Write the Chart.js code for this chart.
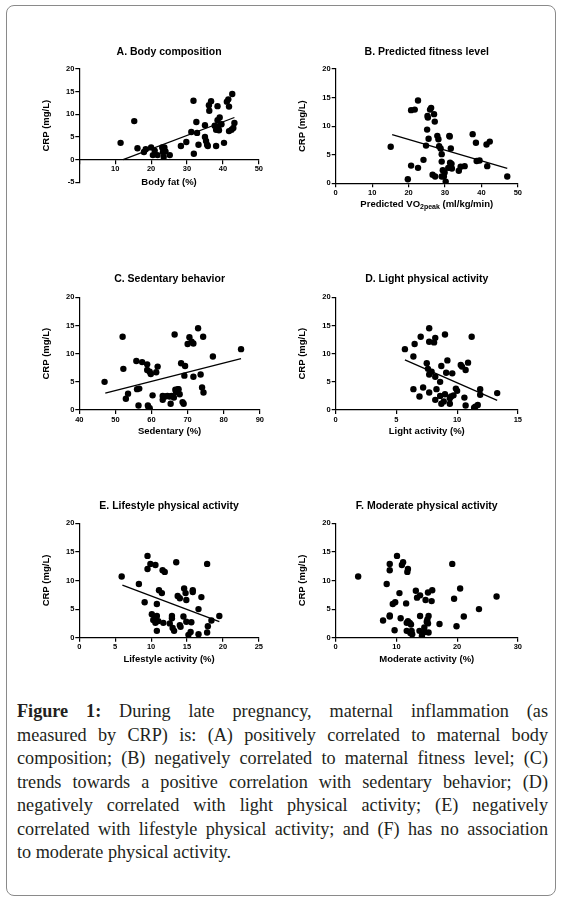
<!DOCTYPE html>
<html>
<head>
<meta charset="utf-8">
<script src="https://cdn.jsdelivr.net/npm/chart.js@4.4.0/dist/chart.umd.min.js"></script>
<style>
  html, body { margin: 0; padding: 0; background: #fff; }
  body { width: 563px; height: 903px; position: relative; overflow: hidden; }
  #frame {
    position: absolute; left: 6px; top: 5px; width: 550px; height: 891px;
    border: 1px solid #8a8a8a; border-radius: 8px; box-sizing: border-box;
  }
  canvas { position: absolute; }
  #caption {
    position: absolute; left: 17px; top: 700px; width: 531px;
    font-family: "Liberation Serif", "Times New Roman", serif;
    font-size: 18.2px; line-height: 23.5px; color: #231f20;
  }
  #caption div { white-space: nowrap; text-align: justify; text-align-last: justify; }
  #caption div.last { text-align: left; text-align-last: left; }
</style>
</head>
<body>
<div id="frame"></div>
<canvas id="chartA"></canvas>
<canvas id="chartB"></canvas>
<canvas id="chartC"></canvas>
<canvas id="chartD"></canvas>
<canvas id="chartE"></canvas>
<canvas id="chartF"></canvas>
<div id="caption">
  <div><b>Figure 1:</b> During late pregnancy, maternal inflammation (as</div>
  <div>measured by CRP) is: (A) positively correlated to maternal body</div>
  <div>composition; (B) negatively correlated to maternal fitness level; (C)</div>
  <div>trends towards a positive correlation with sedentary behavior; (D)</div>
  <div>negatively correlated with light physical activity; (E) negatively</div>
  <div>correlated with lifestyle physical activity; and (F) has no association</div>
  <div class="last">to moderate physical activity.</div>
</div>
<script>
// A. Body composition
const bodyFat = [11.5, 15.3, 16.2, 18.0, 18.5, 20.0, 20.5, 21.0, 21.8, 23.1,
                 23.3, 23.5, 23.7, 24.0, 25.2, 28.3, 29.8, 31.2, 31.8, 31.9,
                 32.6, 32.8, 33.2, 35.0, 35.0, 35.3, 35.6, 35.8, 36.1, 36.2,
                 36.7, 37.7, 38.1, 38.1, 38.5, 38.5, 38.7, 38.9, 39.1, 39.6,
                 40.3, 41.1, 41.5, 41.7, 41.7, 42.4, 42.6, 42.9, 43.2];
const crpFat  = [3.7, 8.5, 2.5, 1.7, 2.3, 2.7, 1.0, 2.0, 1.0, 2.7,
                 1.7, 0.6, 2.7, 1.8, 1.0, 3.0, 3.9, 6.1, 13.0, 1.3,
                 8.3, 5.9, 3.3, 5.0, 7.6, 4.1, 3.3, 3.0, 12.0, 10.8,
                 12.9, 7.5, 6.6, 3.0, 11.8, 8.7, 7.2, 6.5, 9.3, 7.8,
                 3.7, 12.8, 13.3, 11.7, 6.3, 6.6, 14.5, 7.0, 8.1];
const fitFatX = [12.2, 43.2];
const fitFatY = [0, 9.3];

// B. Predicted fitness level
const vo2 = [15.1, 19.8, 20.7, 20.7, 21.7, 22.6, 22.6, 24.1, 24.8, 25.1,
             25.2, 25.3, 25.5, 25.9, 26.2, 26.6, 27.0, 27.2, 27.3, 27.9,
             28.2, 28.4, 28.8, 29.1, 29.1, 29.1, 29.4, 29.7, 29.9, 30.2,
             30.9, 31.2, 31.3, 31.4, 31.6, 31.8, 31.9, 33.8, 34.3, 35.4,
             37.6, 38.5, 38.7, 39.5, 41.6, 41.4, 42.3, 47.1];
const crpVo2 = [6.4, 0.7, 3.1, 12.8, 12.9, 14.5, 2.7, 4.1, 6.6, 9.4,
                11.8, 11.5, 7.8, 12.9, 13.2, 1.5, 12.1, 10.8, 1.2, 8.3,
                7.7, 6.5, 6.1, 5.1, 3.8, 1.2, 2.3, 1.2, 1.9, 0.3,
                2.7, 8.3, 8.2, 3.6, 6.1, 3.4, 2.6, 2.2, 2.9, 3.0,
                8.6, 7.1, 3.9, 4.0, 3.0, 6.8, 7.3, 1.2];
const fitVo2X = [15.5, 47.1];
const fitVo2Y = [8.5, 2.6];

// C. Sedentary behavior
const sedentary = [47.0, 52.0, 52.2, 52.9, 53.5, 55.8, 56.0, 56.4, 56.6, 57.4,
                   58.8, 58.8, 59.0, 59.2, 59.5, 59.5, 59.8, 60.3, 61.3, 61.7,
                   63.1, 63.1, 63.8, 64.4, 65.0, 65.3, 65.6, 66.2, 66.4, 66.6,
                   66.8, 67.3, 67.5, 67.8, 68.2, 68.6, 68.9, 69.1, 69.3, 70.0,
                   70.5, 71.1, 71.6, 71.6, 72.9, 73.6, 74.0, 74.3, 74.4, 77.0, 84.8];
const crpSed = [5.0, 13.0, 7.3, 2.0, 2.9, 8.7, 3.7, 0.8, 3.8, 8.5,
                8.1, 7.1, 0.8, 0.4, 0.3, 6.8, 6.4, 2.6, 6.7, 7.7,
                2.5, 1.8, 2.4, 2.5, 2.4, 1.1, 2.5, 2.2, 13.4, 3.6,
                3.2, 3.7, 3.7, 2.8, 8.3, 1.4, 1.1, 6.1, 7.8, 11.7,
                12.9, 12.1, 11.8, 5.9, 14.5, 6.3, 4.0, 13.0, 3.1, 9.5, 10.8];
const fitSedX = [47.2, 84.8];
const fitSedY = [3.0, 9.1];

// D. Light physical activity
const light = [5.7, 6.4, 6.5, 6.4, 6.9, 7.0, 7.2, 7.5, 7.6, 7.7,
               7.7, 7.7, 7.7, 7.9, 8.1, 8.2, 8.2, 8.2, 8.3, 8.6,
               8.6, 8.7, 8.7, 8.9, 9.0, 9.0, 9.1, 9.2, 9.4, 9.4,
               9.5, 9.6, 9.7, 9.9, 10.0, 10.3, 10.4, 10.6, 10.7, 10.7,
               10.9, 11.2, 11.4, 11.5, 11.7, 11.9, 11.9, 13.3];
const crpLight = [10.8, 9.5, 11.7, 3.7, 2.4, 13.0, 4.0, 8.3, 7.3, 14.5,
                  12.1, 6.3, 3.1, 6.8, 12.0, 12.8, 5.9, 1.8, 3.7, 5.0,
                  2.5, 7.8, 1.1, 1.5, 2.8, 13.4, 6.6, 8.8, 1.1, 2.1,
                  2.4, 6.5, 2.6, 3.8, 3.4, 8.0, 7.7, 2.2, 7.1, 0.8,
                  8.4, 13.0, 0.4, 0.6, 0.9, 3.7, 2.7, 3.0];
const fitLightX = [5.7, 13.3];
const fitLightY = [8.9, 1.7];

// E. Lifestyle physical activity
const lifestyle = [9.5, 9.9, 9.5, 10.6, 11.6, 11.9, 13.5, 17.8, 5.9, 8.3,
                   9.1, 10.8, 11.1, 11.5, 10.1, 10.8, 10.3, 10.6, 11.0, 10.8,
                   11.7, 12.6, 12.9, 12.9, 13.0, 13.2, 13.7, 14.0, 14.0, 14.1,
                   14.5, 14.6, 14.8, 14.9, 14.9, 15.2, 15.5, 15.6, 15.8, 15.8,
                   16.6, 16.6, 17.0, 17.8, 17.9, 18.4, 19.5];
const crpLife = [14.3, 12.9, 12.0, 12.7, 11.8, 11.5, 13.2, 12.9, 10.7, 9.4,
                 6.2, 5.9, 8.3, 7.8, 4.1, 3.8, 3.1, 2.6, 2.9, 1.2,
                 2.6, 2.5, 3.8, 3.4, 1.7, 1.2, 7.3, 6.9, 2.2, 1.9,
                 3.7, 8.6, 7.8, 6.6, 2.8, 0.5, 1.0, 2.7, 8.3, 8.0,
                 5.0, 0.6, 7.1, 0.9, 2.0, 3.0, 3.8];
const fitLifeX = [6.0, 19.5];
const fitLifeY = [9.2, 2.8];

// F. Moderate physical activity
const moderate = [10.1, 8.9, 8.9, 11.1, 10.9, 11.9, 11.8, 19.2, 3.7, 8.4,
                  10.5, 9.4, 9.8, 11.6, 13.2, 13.4, 13.9, 14.8, 15.2, 15.9,
                  15.8, 19.5, 20.5, 23.6, 26.5, 7.8, 8.9, 8.9, 9.7, 10.7,
                  11.7, 11.9, 12.2, 12.4, 11.7, 12.5, 12.3, 12.6, 13.9, 13.8,
                  14.2, 14.6, 14.7, 15.0, 15.2, 15.3, 15.1, 15.3, 17.1, 19.9, 21.1];
const crpMod = [14.3, 12.9, 11.8, 13.2, 12.7, 12.0, 11.5, 12.9, 10.7, 9.4,
                7.8, 5.9, 6.2, 6.0, 8.2, 7.0, 7.4, 6.6, 7.9, 8.3,
                6.4, 6.8, 8.6, 5.0, 7.2, 3.0, 3.9, 3.7, 1.3, 3.4,
                2.6, 2.9, 2.6, 2.3, 1.2, 1.2, 0.8, 0.6, 3.8, 1.2,
                0.3, 1.8, 1.0, 2.8, 2.5, 3.8, 3.2, 0.9, 2.4, 2.0, 3.7];

// tick labels
const crpTicksA = [-5, 0, 5, 10, 15, 20];
const crpTicks = [0, 5, 10, 15, 20];
const fatTicks = [0, 10, 20, 30, 40, 50];
const vo2Ticks = [0, 10, 20, 30, 40, 50];
const sedTicks = [40, 50, 60, 70, 80, 90];
const lightTicks = [0, 5, 10, 15];
const lifeTicks = [0, 5, 10, 15, 20, 25];
const modTicks = [0, 10, 20, 30];

const FONT = '"Liberation Sans", Arial, sans-serif';
Chart.defaults.color = '#000';
Chart.defaults.font.family = FONT;

// plot areas on the page (left, right, top, bottom), title centre y
const layoutA = { l: 79.3, r: 249, t: 69, b: 182.3, ty: 51.7 };
const layoutB = { l: 335.7, r: 507.3, t: 69, b: 183.3, ty: 52 };
const layoutC = { l: 79.3, r: 250, t: 297.3, b: 410, ty: 279.5 };
const layoutD = { l: 335.7, r: 507.3, t: 297.3, b: 410, ty: 279.5 };
const layoutE = { l: 79.3, r: 249, t: 523.3, b: 637.7, ty: 506.5 };
const layoutF = { l: 335.7, r: 507.3, t: 523.3, b: 637.7, ty: 506.5 };

const Y_W = 45, X_H = 40, TITLE_H = 30, RIGHT = 15;

// draws the x title with a subscript (Predicted VO2peak)
const subTitlePlugin = {
    id: 'subTitle',
    afterDraw(chart, args, opts) {
        if (!opts.parts) return;
        const ctx = chart.ctx;
        const a = chart.chartArea;
        const big = 'bold 9.5px ' + FONT;
        const small = 'bold 7px ' + FONT;
        ctx.save();
        const widths = opts.parts.map(p => {
            ctx.font = p.sub ? small : big;
            return ctx.measureText(p.text).width;
        });
        const total = widths.reduce((s, w) => s + w, 0);
        let x = (a.left + a.right) / 2 - total / 2;
        const y = a.bottom + opts.offset;
        ctx.fillStyle = '#000';
        ctx.textBaseline = 'middle';
        ctx.textAlign = 'left';
        opts.parts.forEach((p, i) => {
            ctx.font = p.sub ? small : big;
            ctx.fillText(p.text, x, y + (p.sub ? 2.8 : 0));
            x += widths[i];
        });
        ctx.restore();
    }
};

function axisStyle() {
    return {
        border: { display: true, color: '#000', width: 1.2 },
        grid: { display: true, drawOnChartArea: false, drawTicks: true, tickLength: 4, color: '#000', lineWidth: 1.2 }
    };
}

function makePanel(id, g, title, xs, ys, fitX, fitY, xTicks, yTicks, xTitle, extra) {
    extra = extra || {};
    const canvas = document.getElementById(id);
    const left = Math.floor(g.l - Y_W);
    const top = Math.floor(g.t - TITLE_H);
    const right = Math.ceil(g.r + RIGHT);
    const bottom = Math.ceil(g.b + X_H);
    canvas.width = right - left;
    canvas.height = bottom - top;
    canvas.style.left = left + 'px';
    canvas.style.top = top + 'px';

    const titleLH = 10.5 * 1.2;
    const gap = g.t - g.ty - titleLH / 2;

    const datasets = [{
        type: 'scatter',
        data: xs.map((x, i) => ({ x: x, y: ys[i] })),
        backgroundColor: '#000',
        borderWidth: 0,
        pointRadius: 3.2,
        pointHoverRadius: 3.2
    }];
    if (fitX) {
        datasets.push({
            type: 'line',
            data: fitX.map((x, i) => ({ x: x, y: fitY[i] })),
            borderColor: '#000',
            borderWidth: 1.3,
            pointRadius: 0,
            fill: false
        });
    }

    const xScale = Object.assign(axisStyle(), {
        type: 'linear',
        position: extra.xAtZero ? { y: 0 } : 'bottom',
        min: xTicks[0],
        max: xTicks[xTicks.length - 1],
        afterBuildTicks: s => { s.ticks = xTicks.map(v => ({ value: v })); },
        afterFit: s => { s.height = X_H; },
        ticks: {
            padding: 1,
            maxRotation: 0,
            font: { size: 7.5, weight: 'bold' },
            callback: v => (extra.hideXZero && v === 0) ? '' : v
        },
        title: {
            display: !!xTitle,
            text: xTitle || '',
            font: { size: 9.5, weight: 'bold' },
            padding: { top: 0, bottom: extra.xAtZero ? 11.9 : 12.6 }
        }
    });
    const yScale = Object.assign(axisStyle(), {
        type: 'linear',
        position: 'left',
        min: yTicks[0],
        max: yTicks[yTicks.length - 1],
        afterBuildTicks: s => { s.ticks = yTicks.map(v => ({ value: v })); },
        afterFit: s => { s.width = Y_W; },
        ticks: { padding: 1, font: { size: 7.5, weight: 'bold' } },
        title: {
            display: true,
            text: 'CRP (mg/L)',
            font: { size: 9.5, weight: 'bold' },
            padding: { top: Y_W - 33.3 - 5.7, bottom: 0 }
        }
    });

    // an axis placed at y = 0 takes no room at the bottom, so reserve it here
    const extraBottom = extra.xAtZero ? X_H : 0;

    return new Chart(canvas.getContext('2d'), {
        type: 'scatter',
        data: { datasets: datasets },
        options: {
            responsive: false,
            animation: false,
            devicePixelRatio: window.devicePixelRatio || 1,
            layout: {
                padding: {
                    left: g.l - Y_W - left,
                    top: g.t - TITLE_H - top,
                    right: right - (g.r + RIGHT),
                    bottom: bottom - (g.b + X_H) + extraBottom
                }
            },
            scales: { x: xScale, y: yScale },
            plugins: {
                legend: { display: false },
                tooltip: { enabled: false },
                title: {
                    display: true,
                    text: title,
                    fullSize: false,
                    font: { size: 10.5, weight: 'bold' },
                    padding: { top: TITLE_H - titleLH - gap, bottom: gap }
                },
                subTitle: extra.subTitle || {}
            }
        },
        plugins: [subTitlePlugin]
    });
}

makePanel('chartA', layoutA, 'A. Body composition', bodyFat, crpFat, fitFatX, fitFatY,
    fatTicks, crpTicksA, 'Body fat (%)', { xAtZero: true, hideXZero: true });

makePanel('chartB', layoutB, 'B. Predicted fitness level', vo2, crpVo2, fitVo2X, fitVo2Y,
    vo2Ticks, crpTicks, null, {
        subTitle: {
            offset: 20.7,
            parts: [
                { text: 'Predicted VO' },
                { text: '2peak', sub: true },
                { text: ' (ml/kg/min)' }
            ]
        }
    });

makePanel('chartC', layoutC, 'C. Sedentary behavior', sedentary, crpSed, fitSedX, fitSedY,
    sedTicks, crpTicks, 'Sedentary (%)');

makePanel('chartD', layoutD, 'D. Light physical activity', light, crpLight, fitLightX, fitLightY,
    lightTicks, crpTicks, 'Light activity (%)');

makePanel('chartE', layoutE, 'E. Lifestyle physical activity', lifestyle, crpLife, fitLifeX, fitLifeY,
    lifeTicks, crpTicks, 'Lifestyle activity (%)');

makePanel('chartF', layoutF, 'F. Moderate physical activity', moderate, crpMod, null, null,
    modTicks, crpTicks, 'Moderate activity (%)');
</script>
</body>
</html>
